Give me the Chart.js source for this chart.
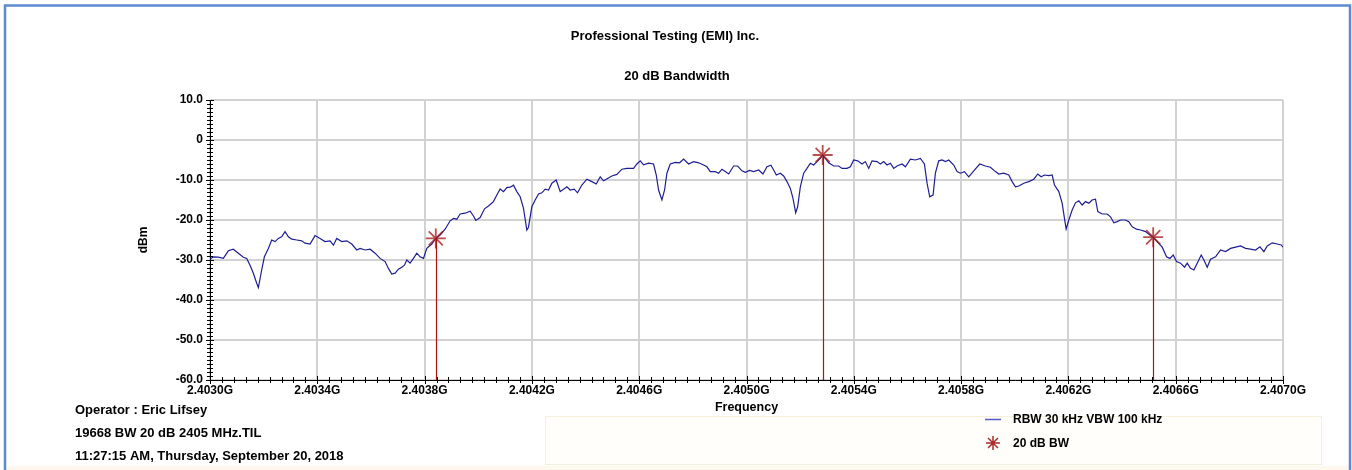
<!DOCTYPE html>
<html>
<head>
<meta charset="utf-8">
<script src="https://cdn.jsdelivr.net/npm/chart.js@4.4.1/dist/chart.umd.min.js"></script>
<style>
  html, body { margin: 0; padding: 0; background: #ffffff; }
  canvas { display: block; }
</style>
</head>
<body>
<canvas id="c" width="1352" height="470"></canvas>
<script>
// ---- data (frequency in MHz, level in dBm) ----
const titleText = 'Professional Testing (EMI) Inc.';
const subtitleText = '20 dB Bandwidth';
const infoLines = ['Operator : Eric Lifsey', '19668 BW 20 dB 2405 MHz.TIL', '11:27:15 AM, Thursday, September 20, 2018'];
const traceLabel = 'RBW 30 kHz VBW 100 kHz';
const markerLabel = '20 dB BW';
const xAxisTitle = 'Frequency';
const yAxisTitle = 'dBm';

const freqMHz = [
  2403.0000, 2403.0124, 2403.0311, 2403.0497, 2403.0684, 2403.0870, 2403.1057, 2403.1243, 2403.1368, 2403.1492,
  2403.1616, 2403.1741, 2403.1803, 2403.1927, 2403.2027, 2403.2176, 2403.2300, 2403.2424, 2403.2549, 2403.2673,
  2403.2797, 2403.2922, 2403.3046, 2403.3233, 2403.3419, 2403.3543, 2403.3730, 2403.3916, 2403.4103, 2403.4289,
  2403.4476, 2403.4600, 2403.4725, 2403.4911, 2403.5098, 2403.5284, 2403.5471, 2403.5595, 2403.5781, 2403.5968,
  2403.6154, 2403.6341, 2403.6527, 2403.6652, 2403.6776, 2403.6900, 2403.7025, 2403.7149, 2403.7249, 2403.7336,
  2403.7460, 2403.7584, 2403.7709, 2403.7833, 2403.7957, 2403.8082, 2403.8268, 2403.8417, 2403.8579, 2403.8765,
  2403.8952, 2403.9076, 2403.9201, 2403.9325, 2403.9511, 2403.9698, 2403.9822, 2403.9909, 2404.0071, 2404.0233,
  2404.0382, 2404.0568, 2404.0693, 2404.0817, 2404.0941, 2404.1066, 2404.1190, 2404.1314, 2404.1439, 2404.1563,
  2404.1687, 2404.1811, 2404.1873, 2404.1998, 2404.2122, 2404.2247, 2404.2371, 2404.2495, 2404.2620, 2404.2744,
  2404.2906, 2404.3055, 2404.3179, 2404.3304, 2404.3428, 2404.3577, 2404.3701, 2404.3863, 2404.4049, 2404.4236,
  2404.4398, 2404.4547, 2404.4671, 2404.4820, 2404.4982, 2404.5168, 2404.5355, 2404.5541, 2404.5790, 2404.5914,
  2404.6039, 2404.6163, 2404.6350, 2404.6536, 2404.6636, 2404.6722, 2404.6847, 2404.6946, 2404.7033, 2404.7158,
  2404.7344, 2404.7506, 2404.7655, 2404.7842, 2404.8028, 2404.8215, 2404.8401, 2404.8526, 2404.8650, 2404.8836,
  2404.8961, 2404.9085, 2404.9209, 2404.9334, 2404.9520, 2404.9669, 2404.9831, 2404.9955, 2405.0117, 2405.0266,
  2405.0453, 2405.0614, 2405.0763, 2405.0912, 2405.1012, 2405.1111, 2405.1260, 2405.1385, 2405.1509, 2405.1634,
  2405.1733, 2405.1833, 2405.1907, 2405.2007, 2405.2131, 2405.2255, 2405.2380, 2405.2504, 2405.2628, 2405.2753,
  2405.2840, 2405.2939, 2405.3064, 2405.3250, 2405.3437, 2405.3561, 2405.3747, 2405.3872, 2405.3996, 2405.4145,
  2405.4307, 2405.4431, 2405.4556, 2405.4680, 2405.4866, 2405.4991, 2405.5115, 2405.5239, 2405.5364, 2405.5488,
  2405.5612, 2405.5799, 2405.5923, 2405.6110, 2405.6296, 2405.6483, 2405.6632, 2405.6731, 2405.6831, 2405.6955,
  2405.7042, 2405.7166, 2405.7291, 2405.7415, 2405.7539, 2405.7726, 2405.7850, 2405.7975, 2405.8124, 2405.8285,
  2405.8472, 2405.8696, 2405.8907, 2405.9094, 2405.9280, 2405.9404, 2405.9591, 2405.9777, 2405.9902, 2406.0026,
  2406.0151, 2406.0337, 2406.0523, 2406.0710, 2406.0859, 2406.0984, 2406.1108, 2406.1270, 2406.1394, 2406.1481,
  2406.1642, 2406.1767, 2406.1854, 2406.1916, 2406.2016, 2406.2140, 2406.2264, 2406.2389, 2406.2513, 2406.2637,
  2406.2762, 2406.2886, 2406.3010, 2406.3097, 2406.3259, 2406.3445, 2406.3570, 2406.3694, 2406.3818, 2406.3943,
  2406.4129, 2406.4253, 2406.4378, 2406.4539, 2406.4689, 2406.4875, 2406.5037, 2406.5161, 2406.5310, 2406.5497,
  2406.5658, 2406.5783, 2406.5907, 2406.6031, 2406.6181, 2406.6330, 2406.6429, 2406.6553, 2406.6678, 2406.6802,
  2406.6951, 2406.7051, 2406.7175, 2406.7299, 2406.7486, 2406.7672, 2406.7859, 2406.8045, 2406.8232, 2406.8418,
  2406.8605, 2406.8791, 2406.8978, 2406.9139, 2406.9288, 2406.9413, 2406.9599, 2406.9786, 2406.9935, 2407.0000
];
const levelDbm = [
  -29.8, -29.2, -29.3, -29.6, -27.7, -27.3, -28.3, -29.3, -29.6, -31.3,
  -33.3, -35.8, -36.9, -32.5, -29.2, -27.1, -25.0, -25.4, -24.6, -24.2,
  -22.9, -24.2, -24.8, -25.0, -25.2, -25.8, -26.0, -23.9, -24.6, -25.4,
  -25.2, -26.3, -24.6, -25.4, -25.2, -26.0, -27.5, -27.1, -27.5, -27.3,
  -28.3, -29.6, -30.4, -32.1, -33.5, -33.3, -32.3, -31.8, -31.3, -30.0,
  -30.8, -29.6, -28.3, -29.2, -29.6, -27.1, -26.0, -24.6, -23.75, -22.3,
  -20.2, -19.6, -19.8, -18.5, -18.3, -17.8, -19.0, -20.1, -19.4, -17.2,
  -16.5, -15.4, -13.75, -12.25, -12.9, -11.9, -11.8, -11.3, -12.9, -14.2,
  -17.1, -22.5, -21.8, -16.7, -15.0, -13.5, -13.2, -12.3, -12.5, -10.8,
  -10.0, -12.9, -12.3, -11.7, -12.5, -12.3, -13.2, -11.25, -9.8, -10.4,
  -11.0, -9.2, -10.2, -9.6, -9.0, -8.6, -7.3, -7.1, -7.1, -6.0,
  -5.2, -6.2, -5.8, -6.0, -8.75, -12.5, -15.0, -12.5, -8.3, -6.0,
  -5.6, -5.7, -4.75, -6.0, -5.4, -5.7, -6.25, -6.7, -7.9, -7.9,
  -8.3, -7.3, -7.9, -8.5, -6.5, -6.5, -7.7, -8.1, -7.6, -7.9,
  -7.5, -8.5, -6.7, -6.3, -7.5, -8.75, -8.3, -9.0, -10.4, -12.1,
  -14.6, -18.2, -16.7, -11.7, -8.3, -7.1, -5.8, -6.25, -5.4, -4.6,
  -3.75, -4.6, -5.7, -6.5, -6.5, -7.1, -7.1, -6.7, -5.0, -5.2,
  -6.0, -5.4, -7.1, -5.2, -5.4, -6.0, -5.4, -6.25, -5.8, -7.1,
  -6.5, -6.0, -6.7, -4.8, -5.0, -4.6, -6.0, -10.8, -14.2, -13.75,
  -8.3, -5.2, -5.0, -5.4, -5.0, -6.25, -7.9, -8.3, -7.9, -9.2,
  -7.7, -6.0, -6.5, -6.8, -7.9, -8.5, -8.3, -8.75, -10.4, -11.7,
  -11.5, -10.8, -10.4, -9.8, -8.5, -9.2, -8.75, -8.9, -8.75, -11.25,
  -12.9, -15.8, -19.6, -22.25, -20.0, -17.5, -15.7, -15.2, -16.25, -15.4,
  -15.8, -15.0, -14.8, -17.9, -18.5, -18.5, -19.2, -20.7, -20.4, -20.0,
  -20.0, -20.4, -21.7, -22.3, -22.5, -22.9, -23.75, -24.3, -25.4, -26.8,
  -29.2, -29.6, -28.75, -30.4, -30.8, -31.8, -30.8, -32.1, -32.5, -30.8,
  -28.75, -30.0, -31.8, -29.8, -29.2, -27.5, -27.9, -27.1, -26.8, -26.5,
  -27.1, -27.3, -27.5, -26.7, -27.9, -26.5, -25.7, -26.0, -26.25, -26.8
];
const markerFreqMHz = [2403.8417, 2405.2840, 2406.5161];
const markerDbm = [-24.6, -3.75, -24.3];

const xTickValues = [2403.0, 2403.4, 2403.8, 2404.2, 2404.6, 2405.0, 2405.4, 2405.8, 2406.2, 2406.6, 2407.0];
const yTickValues = [10, 0, -10, -20, -30, -40, -50, -60];
const xMinorPerMajor = 9;
const yMinorPerMajor = 10;

// ---- styling ----
const FONT = "'Liberation Sans', Arial, sans-serif";
Chart.defaults.font.family = FONT;
Chart.defaults.color = '#000';

const framePlugin = {
  id: 'frame',
  beforeDraw(chart) {
    const c = chart.ctx;
    c.save();
    c.fillStyle = '#ffffff';
    c.fillRect(0, 0, chart.width, chart.height);
    c.fillStyle = '#fcf8ee';
    c.fillRect(5, 466, 1345, 10);
    c.fillStyle = '#fffefa';
    c.fillRect(545, 416, 776, 48);
    c.strokeStyle = '#f5eedb';
    c.lineWidth = 1;
    c.strokeRect(545.5, 416.5, 776, 48);
    c.strokeStyle = '#5b8bd1';
    c.lineWidth = 2.5;
    c.strokeRect(5, 5.5, 1345, 480);
    c.restore();
  },
  beforeDatasetsDraw(chart) {
    const c = chart.ctx;
    const meta = chart.getDatasetMeta(1);
    const bottom = chart.chartArea.bottom;
    c.save();
    c.strokeStyle = '#b01212';
    c.lineWidth = 1.2;
    meta.data.forEach(p => {
      const x = Math.round(p.x) + 0.5;
      c.beginPath();
      c.moveTo(x, p.y);
      c.lineTo(x, bottom);
      c.stroke();
    });
    c.restore();
  },
  afterDraw(chart) {
    const c = chart.ctx;
    const xs = chart.scales.x, ys = chart.scales.y;
    const area = chart.chartArea;
    c.save();
    c.strokeStyle = '#000';
    c.lineWidth = 1;
    c.beginPath();
    for (let i = 0; i < xTickValues.length; i++) {
      const px = Math.round(xs.getPixelForValue(xTickValues[i])) + 0.5;
      c.moveTo(px, area.bottom - 4); c.lineTo(px, area.bottom + 4);
      if (i < xTickValues.length - 1) {
        const step = (xTickValues[i + 1] - xTickValues[i]) / xMinorPerMajor;
        for (let k = 1; k < xMinorPerMajor; k++) {
          const mx = Math.round(xs.getPixelForValue(xTickValues[i] + k * step)) + 0.5;
          c.moveTo(mx, area.bottom - 3); c.lineTo(mx, area.bottom + 3);
        }
      }
    }
    const ySorted = yTickValues.slice().sort((a, b) => a - b);
    for (let i = 0; i < ySorted.length; i++) {
      const py = Math.round(ys.getPixelForValue(ySorted[i])) + 0.5;
      c.moveTo(area.left - 4, py); c.lineTo(area.left + 4, py);
      if (i < ySorted.length - 1) {
        const step = (ySorted[i + 1] - ySorted[i]) / yMinorPerMajor;
        for (let k = 1; k < yMinorPerMajor; k++) {
          const my = Math.round(ys.getPixelForValue(ySorted[i] + k * step)) + 0.5;
          c.moveTo(area.left - 3, my); c.lineTo(area.left + 3, my);
        }
      }
    }
    c.stroke();

    c.fillStyle = '#000';
    c.font = 'bold 13px ' + FONT;
    c.textAlign = 'center';
    c.textBaseline = 'middle';
    c.fillText(titleText, 665, 36);
    c.fillText(subtitleText, 677, 76);

    c.textAlign = 'left';
    infoLines.forEach((t, i) => c.fillText(t, 75, 410 + i * 23));

    c.font = 'bold 12px ' + FONT;
    const ds = chart.data.datasets;
    c.strokeStyle = '#5858c8';
    c.lineWidth = 1.5;
    c.beginPath();
    c.moveTo(985, 419.5); c.lineTo(1001, 419.5);
    c.stroke();
    c.fillText(ds[0].label, 1013, 420);
    c.strokeStyle = 'rgba(160,20,20,0.9)';
    c.lineWidth = 1.5;
    const sx = 993, sy = 443, r = 7;
    c.beginPath();
    for (let a = 0; a < 4; a++) {
      const ang = a * Math.PI / 4;
      c.moveTo(sx - r * Math.cos(ang), sy - r * Math.sin(ang));
      c.lineTo(sx + r * Math.cos(ang), sy + r * Math.sin(ang));
    }
    c.stroke();
    c.fillText(ds[1].label, 1013, 444);
    c.restore();
  }
};

new Chart(document.getElementById('c'), {
  type: 'line',
  data: {
    datasets: [
      {
        label: traceLabel,
        data: freqMHz.map((f, i) => ({ x: f, y: levelDbm[i] })),
        borderColor: '#1e1e94',
        borderWidth: 1.2,
        pointRadius: 0,
        tension: 0,
        fill: false,
        order: 2
      },
      {
        label: markerLabel,
        data: markerFreqMHz.map((f, i) => ({ x: f, y: markerDbm[i] })),
        showLine: false,
        pointStyle: 'star',
        pointRadius: 10,
        pointBorderWidth: 1.8,
        borderColor: 'rgba(160,20,20,0.75)',
        backgroundColor: 'rgba(160,20,20,0.75)',
        order: 1
      }
    ]
  },
  options: {
    responsive: false,
    animation: false,
    devicePixelRatio: 1,
    layout: { padding: { left: 130, right: 69, top: 100, bottom: 50 } },
    plugins: { legend: { display: false }, tooltip: { enabled: false }, title: { display: false } },
    scales: {
      x: {
        type: 'linear',
        min: 2403,
        max: 2407,
        afterBuildTicks: s => { s.ticks = xTickValues.map(v => ({ value: v })); },
        afterFit: s => { s.height = 40; },
        ticks: {
          callback: v => (v / 1000).toFixed(4) + 'G',
          font: { size: 12, weight: 'bold' },
          color: '#000',
          padding: 3,
          maxRotation: 0,
          autoSkip: false
        },
        grid: { color: '#d2d2d2', lineWidth: 2, drawTicks: false },
        border: { color: '#000', width: 1 },
        title: { display: true, text: xAxisTitle, font: { size: 12.5, weight: 'bold' }, color: '#000', padding: { top: 0, bottom: 5 } }
      },
      y: {
        min: -60,
        max: 10,
        afterBuildTicks: s => { s.ticks = yTickValues.slice().sort((a, b) => a - b).map(v => ({ value: v })); },
        afterFit: s => { s.width = 80; },
        ticks: {
          callback: v => v === 0 ? '0' : v.toFixed(1),
          font: { size: 12, weight: 'bold' },
          color: '#000',
          padding: 7,
          autoSkip: false
        },
        grid: { color: '#d2d2d2', lineWidth: 2, drawTicks: false },
        border: { color: '#000', width: 1 },
        title: { display: true, text: yAxisTitle, font: { size: 12, weight: 'bold' }, color: '#000', padding: { top: 6, bottom: 0 } }
      }
    }
  },
  plugins: [framePlugin]
});
</script>
</body>
</html>
